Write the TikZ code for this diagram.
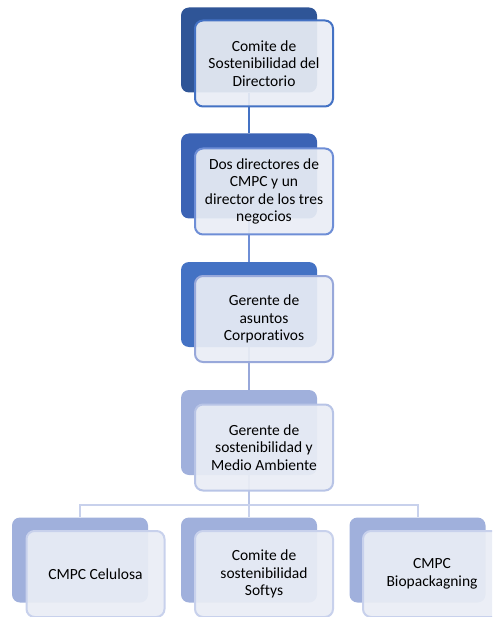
\documentclass[tikz,border=0pt]{standalone}
\usepackage{fontspec}
\setmainfont{Carlito}[Ligatures=NoCommon]
\usetikzlibrary{backgrounds}
\definecolor{lvla}{HTML}{2F5597}
\definecolor{lvlb}{HTML}{3B63B5}
\definecolor{lvlc}{HTML}{4472C4}
\definecolor{lvld}{HTML}{A0B0DC}
\definecolor{edgea}{HTML}{4472C4}
\definecolor{edgeb}{HTML}{6E8ED6}
\definecolor{edgec}{HTML}{98A8DA}
\definecolor{edged}{HTML}{B8C4E6}
\definecolor{edgee}{HTML}{C8D1EC}
\definecolor{paper}{HTML}{E9EDF5}
\begin{document}
\begin{tikzpicture}[x=1pt, y=-1pt,
  backbox/.style={rectangle, rounded corners=8pt, minimum width=136pt, minimum height=85pt, inner sep=0pt},
  frontbox/.style={rectangle, rounded corners=8pt, minimum width=138pt, minimum height=86pt, inner sep=0pt, line width=2pt, fill=paper, fill opacity=0.92, text opacity=1, align=center, font=\fontsize{15.5}{17.5}\selectfont},
  link/.style={line width=2pt}]
\useasboundingbox (0,0) rectangle (492,617);
\clip (0,0) rectangle (492,617);
\node[backbox, fill=lvla] (bid0) at (249,50){};
\node[frontbox, draw=edgea] (fid0) at (264,63.5){Comite de\\Sostenibilidad del\\Directorio};
\node[backbox, fill=lvlb] (bid1) at (249,176){};
\node[frontbox, draw=edgeb] (fid1) at (264,191.5){Dos directores de\\CMPC y un\\director de los tres\\negocios};
\node[backbox, fill=lvlc] (bid2) at (249,304.5){};
\node[frontbox, draw=edgec] (fid2) at (264,319){Gerente de\\asuntos\\Corporativos};
\node[backbox, fill=lvld] (bid3) at (249,432.5){};
\node[frontbox, draw=edged] (fid3) at (264,447.5){Gerente de\\sostenibilidad y\\Medio Ambiente};
\node[backbox, fill=lvld] (bid4) at (80,560){};
\node[frontbox, draw=edgee] (fid4) at (95.5,574){CMPC Celulosa};
\node[backbox, fill=lvld] (bid5) at (249,560){};
\node[frontbox, draw=edgee] (fid5) at (264,574){Comite de\\sostenibilidad\\Softys};
\node[backbox, fill=lvld] (bid6) at (417.5,560){};
\node[frontbox, draw=edgee] (fid6) at (432,574){CMPC\\Biopackagning};
\coordinate (bus) at (249,505);
\begin{pgfonlayer}{background}
\draw[link, draw=edgea](bid0) -- (bid1);
\draw[link, draw=edgeb](bid1) -- (bid2);
\draw[link, draw=edgec](bid2) -- (bid3);
\draw[link, draw=edged](bid3) -- (bus);
\draw[link, draw=edgee](bus) -| (bid4.north);
\draw[link, draw=edgee](bus) -- (bid5.north);
\draw[link, draw=edgee](bus) -| (bid6.north);
\end{pgfonlayer}

\end{tikzpicture}
\end{document}
